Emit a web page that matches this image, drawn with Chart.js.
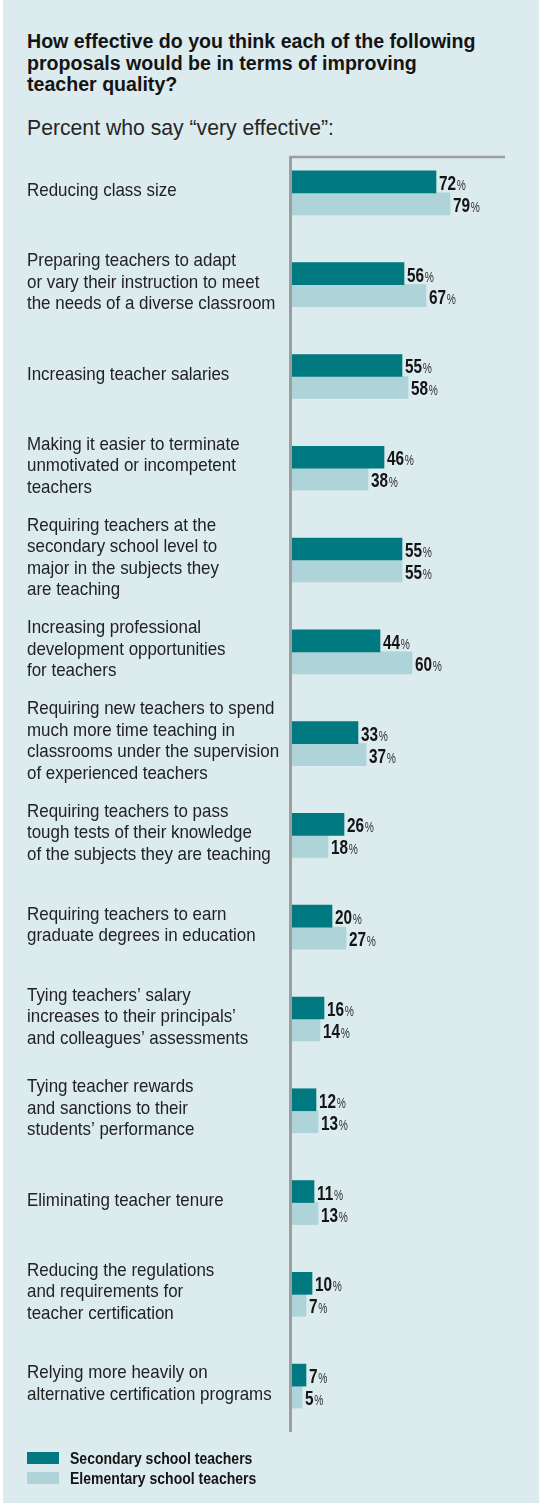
<!DOCTYPE html>
<html>
<head>
<meta charset="utf-8">
<script src="https://cdn.jsdelivr.net/npm/chart.js@4.4.0/dist/chart.umd.min.js"></script>
<style>
  html, body { margin: 0; padding: 0; background: #ffffff; }
  body { width: 539px; height: 1507px; position: relative; overflow: hidden; }
  #panel { position: absolute; left: 3px; top: 0; width: 536px; height: 1503px; background: #dcebee; }
  #title { position: absolute; left: 27px; top: 31px; font: bold 19.6px 'Liberation Sans', Arial, sans-serif; line-height: 21.5px; color: #141414; }
  #subtitle { position: absolute; left: 27px; top: 116px; font: 21.2px 'Liberation Sans', Arial, sans-serif; color: #262626; }
  #chartBox { position: absolute; left: 0; top: 0; }
  .legend-row { position: absolute; left: 27px; height: 13px; }
  .legend-row .swatch { position: absolute; left: 0; top: 0; width: 32px; height: 12px; }
  .legend-row .text { position: absolute; left: 43px; top: -3px; white-space: nowrap; font: bold 16.5px 'Liberation Sans', Arial, sans-serif; color: #141414; transform: scaleX(0.85); transform-origin: 0 0; }
</style>
</head>
<body>
<div id="panel"></div>
<div id="title">How effective do you think each of the following<br>proposals would be in terms of improving<br>teacher quality?</div>
<div id="subtitle">Percent who say “very effective”:</div>
<div id="chartBox"><canvas id="chart" width="539" height="1507"></canvas></div>
<div class="legend-row" style="top:1452px"><div class="swatch" style="background:#007a80"></div><div class="text">Secondary school teachers</div></div>
<div class="legend-row" style="top:1472px"><div class="swatch" style="background:#aed3d9"></div><div class="text">Elementary school teachers</div></div>

<script>
const categories = [
    'Reducing class size',
    ['Preparing teachers to adapt', 'or vary their instruction to meet', 'the needs of a diverse classroom'],
    'Increasing teacher salaries',
    ['Making it easier to terminate', 'unmotivated or incompetent', 'teachers'],
    ['Requiring teachers at the', 'secondary school level to', 'major in the subjects they', 'are teaching'],
    ['Increasing professional', 'development opportunities', 'for teachers'],
    ['Requiring new teachers to spend', 'much more time teaching in', 'classrooms under the supervision', 'of experienced teachers'],
    ['Requiring teachers to pass', 'tough tests of their knowledge', 'of the subjects they are teaching'],
    ['Requiring teachers to earn', 'graduate degrees in education'],
    ['Tying teachers’ salary', 'increases to their principals’', 'and colleagues’ assessments'],
    ['Tying teacher rewards', 'and sanctions to their', 'students’ performance'],
    'Eliminating teacher tenure',
    ['Reducing the regulations', 'and requirements for', 'teacher certification'],
    ['Relying more heavily on', 'alternative certification programs']
];
const secondaryTeachers = [72, 56, 55, 46, 55, 44, 33, 26, 20, 16, 12, 11, 10, 7];
const elementaryTeachers = [79, 67, 58, 38, 55, 60, 37, 18, 27, 14, 13, 13, 7, 5];
const seriesNames = ['Secondary school teachers', 'Elementary school teachers'];
const seriesColors = ['#007a80', '#aed3d9'];

// gray frame: left axis + short top rule
const axisFrame = {
    id: 'axisFrame',
    beforeDatasetsDraw(chart) {
        const { ctx, chartArea } = chart;
        ctx.save();
        ctx.strokeStyle = '#9c9fa1';
        ctx.lineWidth = 3;
        ctx.beginPath();
        ctx.moveTo(chartArea.left - 1.5, chartArea.bottom);
        ctx.lineTo(chartArea.left - 1.5, chartArea.top + 9);
        ctx.stroke();
        ctx.lineWidth = 2.5;
        ctx.beginPath();
        ctx.moveTo(chartArea.left - 3, chartArea.top + 10);
        ctx.lineTo(chartArea.left + 213, chartArea.top + 10);
        ctx.stroke();
        ctx.restore();
    }
};

// category names, left aligned and a bit condensed, placed on the y scale ticks
const categoryLabels = {
    id: 'categoryLabels',
    afterDraw(chart) {
        const ctx = chart.ctx;
        const yScale = chart.scales.y;
        ctx.save();
        ctx.fillStyle = '#222';
        ctx.font = '18.5px "Liberation Sans", Arial, sans-serif';
        ctx.textBaseline = 'middle';
        ctx.textAlign = 'left';
        chart.data.labels.forEach((label, i) => {
            const lines = Array.isArray(label) ? label : [label];
            const yc = yScale.getPixelForTick(i);
            lines.forEach((line, j) => {
                const y = yc - 2 + (j - (lines.length - 1) / 2) * 21.5;
                ctx.save();
                ctx.translate(27, y);
                ctx.scale(0.915, 1);
                ctx.fillText(line, 0, 0);
                ctx.restore();
            });
        });
        ctx.restore();
    }
};

// "72%" style labels at the bar ends, condensed look
const valueLabels = {
    id: 'valueLabels',
    afterDatasetsDraw(chart) {
        const ctx = chart.ctx;
        chart.data.datasets.forEach((ds, di) => {
            chart.getDatasetMeta(di).data.forEach((bar, i) => {
                const num = String(ds.data[i]);
                ctx.save();
                ctx.translate(bar.x + 3, bar.y + 8);
                ctx.scale(0.73, 1);
                ctx.fillStyle = '#141414';
                ctx.textBaseline = 'alphabetic';
                ctx.font = 'bold 21px "Liberation Sans", Arial, sans-serif';
                ctx.fillText(num, 0, 0);
                const w = ctx.measureText(num).width;
                ctx.font = '14px "Liberation Sans", Arial, sans-serif';
                ctx.fillStyle = '#333';
                ctx.fillText('%', w + 1, 0);
                ctx.restore();
            });
        });
    }
};

const ctx = document.getElementById('chart').getContext('2d');
new Chart(ctx, {
    type: 'bar',
    data: {
        labels: categories,
        datasets: [
            { label: seriesNames[0], data: secondaryTeachers, backgroundColor: seriesColors[0], barThickness: 22, borderWidth: 0 },
            { label: seriesNames[1], data: elementaryTeachers, backgroundColor: seriesColors[1], barThickness: 22, borderWidth: 0 }
        ]
    },
    options: {
        indexAxis: 'y',
        responsive: false,
        animation: false,
        layout: { padding: { left: 27, right: 47, top: 147, bottom: 75 } },
        plugins: {
            legend: { display: false },
            tooltip: { enabled: false }
        },
        scales: {
            x: { display: false, min: 0, max: 100 },
            y: {
                grid: { display: false },
                border: { display: false },
                ticks: { display: false },
                afterFit(scale) { scale.width = 265; }
            }
        }
    },
    plugins: [axisFrame, categoryLabels, valueLabels]
});
</script>
</body>
</html>
